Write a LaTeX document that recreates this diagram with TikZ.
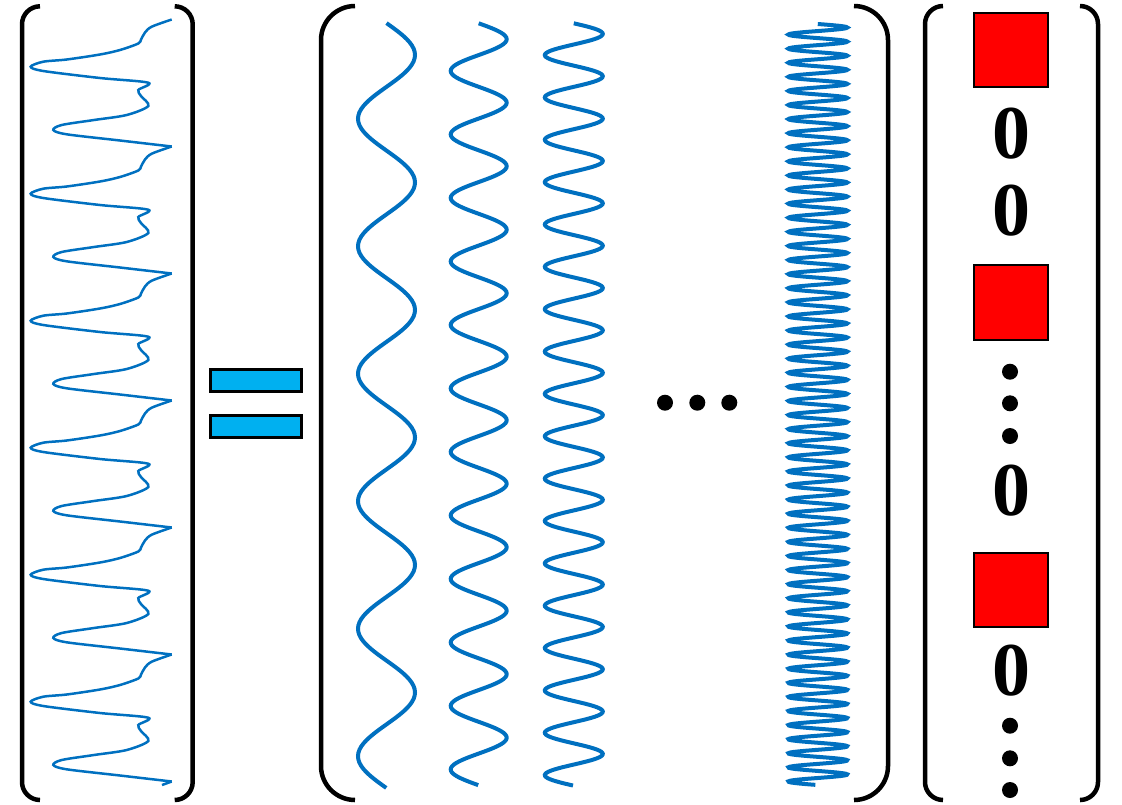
\documentclass[tikz,border=0pt]{standalone}
\usepackage{fontspec}
\setmainfont{Liberation Serif}
\definecolor{sigblue}{RGB}{0,112,192}
\definecolor{eqblue}{RGB}{0,176,240}
\begin{document}
\begin{tikzpicture}[x=10pt,y=10pt]
    \tikzstyle{every node}+=[inner sep=0pt]
    \tikzstyle{brak}=[black, line width=4.5pt]
    \tikzstyle{wave}=[sigblue, line width=4pt]
    \tikzstyle{eqbar}=[draw=black, fill=eqblue, line width=2.6pt, minimum width=91pt, minimum height=22pt]
    \tikzstyle{coef}=[draw=black, fill=red, line width=2pt, minimum size=74.6pt]
    \tikzstyle{zero}=[font=\bfseries\fontsize{76}{76}\selectfont]
    \tikzstyle{bigdot}=[circle, fill=black, minimum size=16pt]
    \useasboundingbox (0,0) rectangle (112.2,-80.4);
    \draw [brak] (4.0,-0.63) arc (90:180:1.8) -- (2.2,-78.2) arc (180:270:1.8);
    \draw [brak] (17.47,-0.63) arc (90:0:1.8) -- (19.27,-78.2) arc (0:-90:1.8);
    \draw [brak] (35.5,-0.6) arc (90:180:3.4) -- (32.1,-76.6) arc (180:270:3.4);
    \draw [brak] (85.4,-0.6) arc (90:0:3.4) -- (88.8,-76.6) arc (0:-90:3.4);
    \draw [brak] (94.3,-0.6) arc (90:180:1.8) -- (92.5,-78.2) arc (180:270:1.8);
    \draw [brak] (108.0,-0.6) arc (90:0:1.8) -- (109.8,-78.2) arc (0:-90:1.8);
    \foreach \k in {0,...,5}
        \draw [sigblue, line width=2.5pt, shift={(0,{-1.95-12.7*\k})}] plot [smooth, tension=0.5] coordinates {(17.17,0) (15.17,-0.72) (14.5,-1.3) (14.1,-2.0) (13.83,-2.4) (12.0,-3.05) (10.0,-3.5) (6.67,-4.0) (4.33,-4.22) (3.07,-4.72) (4.33,-5.15) (10.0,-5.85) (14.83,-6.32) (13.83,-7.05) (14.1,-7.65) (14.83,-8.65) (12.67,-9.55) (9.4,-10.05) (6.17,-10.55) (5.33,-11.05) (6.67,-11.48) (12.0,-12.1) (17.17,-12.7)};
    \draw [sigblue, line width=2.5pt] (17.17,-78.15) -- (16.2,-78.5);
    \node [eqbar] (eqtop) at (25.59,-38.02) {};
    \node [eqbar] (eqbot) at (25.59,-42.62) {};
    \draw [wave] plot [domain=0:6, samples=241, variable=\p] ({38.65+2.85*sin(360*frac(\p))}, {-2.31-12.75*\p});
    \draw [wave] plot [domain=0:12, samples=481, variable=\p] ({47.87+2.8*sin(360*frac(\p))}, {-2.33-6.35*\p});
    \draw [wave] plot [domain=0:18, samples=721, variable=\p] ({57.38+2.9*sin(360*frac(\p))}, {-2.33-4.2356*\p});
    \draw [wave] plot [domain=0:54, samples=1297, variable=\p] ({81.78+2.95*sin(360*frac(\p))}, {-2.4-1.4093*\p});
    \node [bigdot] (hdot1) at (66.5,-40.27) {};
    \node [bigdot] (hdot2) at (69.73,-40.27) {};
    \node [bigdot] (hdot3) at (72.93,-40.27) {};
    \node [coef] (c1) at (101.1,-5.0) {};
    \node [zero] (z1) at (101.1,-13.4) {0};
    \node [zero] (z2) at (101.1,-21.1) {0};
    \node [coef] (c2) at (101.1,-30.25) {};
    \node [bigdot] (vdot1) at (101.0,-37.17) {};
    \node [bigdot] (vdot2) at (101.0,-40.33) {};
    \node [bigdot] (vdot3) at (101.0,-43.6) {};
    \node [zero] (z3) at (101.1,-49.1) {0};
    \node [coef] (c3) at (101.1,-59.0) {};
    \node [zero] (z4) at (101.1,-67.1) {0};
    \node [bigdot] (vdot4) at (101.0,-72.57) {};
    \node [bigdot] (vdot5) at (101.0,-75.83) {};
    \node [bigdot] (vdot6) at (101.0,-79.0) {};
\end{tikzpicture}
\end{document}
